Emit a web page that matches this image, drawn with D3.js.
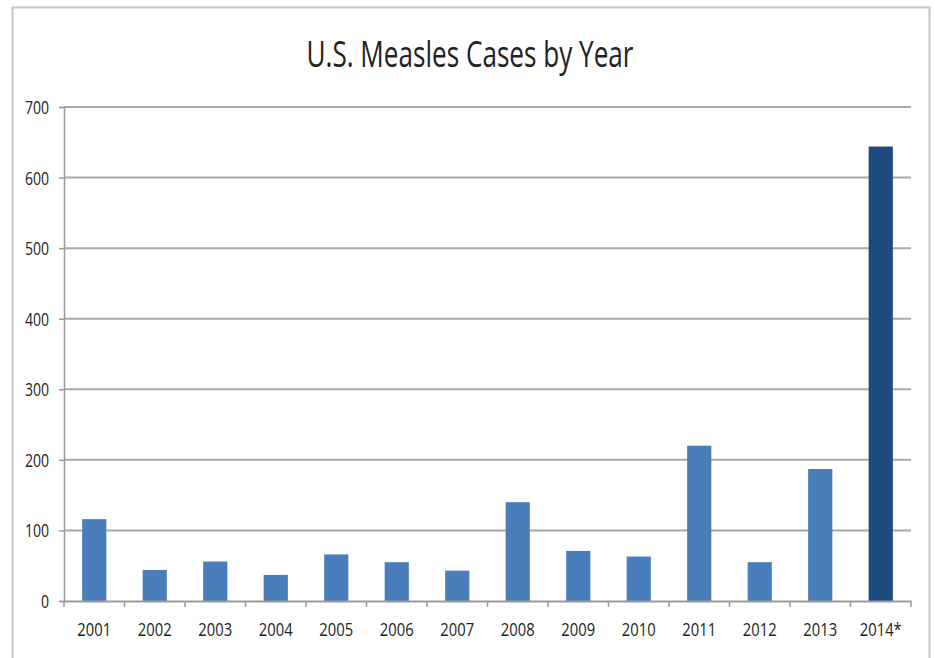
<!DOCTYPE html>
<html>
<head>
<meta charset="utf-8">
<script src="https://cdn.jsdelivr.net/npm/d3@7"></script>
<style>
  html, body { margin: 0; padding: 0; background: #fff; }
  svg { display: block; }
  text { font-family: "Open Sans", sans-serif; fill: #222; }
</style>
</head>
<body>
<svg id="chart" width="935" height="658"></svg>
<script>
const years = ["2001","2002","2003","2004","2005","2006","2007","2008","2009","2010","2011","2012","2013","2014*"];
const cases = [116, 44, 56, 37, 66, 55, 43, 140, 71, 63, 220, 55, 187, 644];
const yTicks = [0, 100, 200, 300, 400, 500, 600, 700];
const title = "U.S. Measles Cases by Year";

const svg = d3.select("#chart");

// condense text horizontally (reference uses a narrow typeface)
function condense(sel, factor) {
  sel.each(function () {
    const w = this.getComputedTextLength();
    d3.select(this).attr("textLength", w * factor).attr("lengthAdjust", "spacingAndGlyphs");
  });
}

// outer frame
svg.append("rect").attr("x", 12.5).attr("y", 7.5).attr("width", 917).attr("height", 660)
  .attr("fill", "#fff").attr("stroke", "#c6c6c6").attr("stroke-width", 2);

const x = d3.scaleBand().domain(years).range([64, 911]).padding(0);
const y = d3.scaleLinear().domain([0, 700]).range([601, 107]);

// gridlines
svg.append("g").selectAll("line").data(yTicks.filter(d => d > 0)).join("line")
  .attr("x1", 64).attr("x2", 911)
  .attr("y1", d => y(d)).attr("y2", d => y(d))
  .attr("stroke", "#a8a8a8").attr("stroke-width", 2);

// bars
const bw = x.bandwidth() * 0.4;
svg.append("g").selectAll("rect").data(cases).join("rect")
  .attr("x", (d, i) => x(years[i]) + (x.bandwidth() - bw) / 2)
  .attr("width", bw)
  .attr("y", d => y(d))
  .attr("height", d => y(0) - y(d))
  .attr("fill", (d, i) => i === years.length - 1 ? "#1f4a7e" : "#4a7ebb");

// y axis
const yAxis = d3.axisLeft(y).tickValues(yTicks).tickSize(5).tickPadding(10);
const gy = svg.append("g").attr("transform", "translate(64,0)").call(yAxis);
gy.select(".domain").attr("stroke", "#9a9a9a").attr("stroke-width", 1.5);
gy.selectAll(".tick line").attr("stroke", "#9a9a9a").attr("stroke-width", 1.5);
gy.selectAll(".tick text").style("font-size", "18px").attr("fill", "#222").attr("dy", "0.36em");
condense(gy.selectAll(".tick text"), 0.78);

// x axis
const xAxis = d3.axisBottom(x).tickSize(0).tickPadding(22);
const gx = svg.append("g").attr("transform", "translate(0,601)").call(xAxis);
gx.select(".domain").attr("stroke", "#9a9a9a").attr("stroke-width", 2);
gx.selectAll(".tick text").style("font-size", "18px").attr("fill", "#222");
condense(gx.selectAll(".tick text"), 0.82);
// boundary tick marks
svg.append("g").selectAll("line").data(years.concat(["end"])).join("line")
  .attr("x1", (d, i) => i < years.length ? x(d) : x.range()[1])
  .attr("x2", (d, i) => i < years.length ? x(d) : x.range()[1])
  .attr("y1", 601).attr("y2", 607)
  .attr("stroke", "#9a9a9a").attr("stroke-width", 1.5);

// title
const t = svg.append("text").attr("x", 470).attr("y", 67).attr("text-anchor", "middle")
  .style("font-size", "37px").attr("fill", "#111").text(title);
t.attr("textLength", 327).attr("lengthAdjust", "spacingAndGlyphs");
</script>
</body>
</html>
